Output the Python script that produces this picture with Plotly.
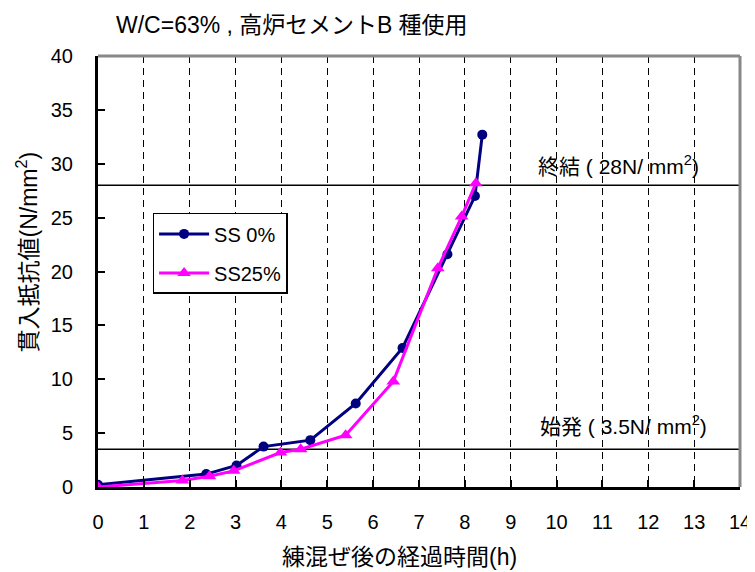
import plotly.graph_objects as go

# ---- data ----
ss0_x = [0, 2.36, 3.02, 3.61, 4.63, 5.62, 6.64, 7.62, 8.22, 8.38]
ss0_y = [0.2, 1.2, 2.0, 3.75, 4.35, 7.75, 12.9, 21.6, 27.0, 32.7]
ss25_x = [0, 1.84, 2.43, 2.96, 3.98, 4.42, 5.40, 6.44, 7.41, 7.93, 8.24]
ss25_y = [0.0, 0.6, 1.0, 1.5, 3.2, 3.5, 4.8, 9.8, 20.3, 25.1, 28.2]
series_names = ["SS 0%", "SS25%"]
thresholds = [28, 3.5]
threshold_labels = ["終結 ( 28N/ mm<sup>2</sup>)", "始発 ( 3.5N/ mm<sup>2</sup>)"]
x_ticks = list(range(0, 15))
y_ticks = list(range(0, 41, 5))

FONT = "Arial, 'Liberation Sans', 'Noto Sans CJK JP', sans-serif"

fig = go.Figure()
fig.add_trace(go.Scatter(
    x=ss0_x, y=ss0_y, name=series_names[0], mode="lines+markers",
    line=dict(color="#000080", width=3),
    marker=dict(symbol="circle", size=10, color="#000080"),
    legendgroup="a"))
fig.add_trace(go.Scatter(
    x=ss25_x, y=ss25_y, name=series_names[1], mode="lines+markers",
    line=dict(color="#FF00FF", width=3),
    marker=dict(symbol="triangle-up", size=12, color="#FF00FF"),
    legendgroup="b"))

shapes = []
for t in thresholds:
    shapes.append(dict(type="line", xref="paper", yref="y", x0=0, x1=1, y0=t, y1=t,
                       line=dict(color="black", width=1.5), layer="below"))
# gray top/right frame
shapes.append(dict(type="line", xref="paper", yref="paper", x0=0, x1=1, y0=1, y1=1,
                   line=dict(color="#888888", width=3)))
shapes.append(dict(type="line", xref="paper", yref="paper", x0=1, x1=1, y0=0, y1=1,
                   line=dict(color="#888888", width=3)))

annotations = [
    dict(text=threshold_labels[0], x=11.35, y=29.9, xref="x", yref="y",
         xanchor="center", yanchor="middle",
         showarrow=False, font=dict(size=21, color="black", family=FONT)),
    dict(text=threshold_labels[1], x=11.45, y=5.8, xref="x", yref="y",
         xanchor="center", yanchor="middle",
         showarrow=False, font=dict(size=21, color="black", family=FONT)),
    dict(text="W/C=63% , 高炉セメントB 種使用", x=0.302, y=1.072, xref="paper", yref="paper",
         xanchor="center", yanchor="middle",
         showarrow=False, font=dict(size=23, color="black", family=FONT)),
    dict(text="貫入抵抗値(N/mm<sup>2</sup>)", x=-0.11, y=0.545, xref="paper", yref="paper",
         xanchor="center", yanchor="middle",
         textangle=-90, showarrow=False, font=dict(size=23, color="black", family=FONT)),
    dict(text="練混ぜ後の経過時間(h)", x=0.47, y=-0.162, xref="paper", yref="paper",
         xanchor="center", yanchor="middle",
         showarrow=False, font=dict(size=23, color="black", family=FONT)),
]

fig.update_layout(
    width=747, height=564,
    margin=dict(l=90, r=15, t=48, b=85, autoexpand=False),
    paper_bgcolor="white", plot_bgcolor="white",
    font=dict(family=FONT, size=20, color="black"),
    shapes=shapes, annotations=annotations,
    showlegend=True,
    legend=dict(x=0.085, y=0.636, xanchor="left", yanchor="top",
                bgcolor="white", bordercolor="black", borderwidth=1.5,
                font=dict(size=20, family=FONT), itemwidth=50,
                tracegroupgap=10),
)
fig.update_xaxes(range=[0, 14], tickvals=x_ticks, ticktext=[str(v) for v in x_ticks],
                 showgrid=True, gridcolor="black", gridwidth=1, griddash="7px,5px",
                 showline=True, linecolor="black", linewidth=3,
                 ticks="inside", ticklen=7, tickwidth=2, tickcolor="black",
                 ticklabelstandoff=15, zeroline=False, automargin=False)
fig.update_yaxes(range=[0, 40], tickvals=y_ticks, ticktext=[str(v) for v in y_ticks],
                 showgrid=False, showline=True, linecolor="black", linewidth=3,
                 ticks="inside", ticklen=7, tickwidth=2, tickcolor="black",
                 ticklabelstandoff=18, zeroline=False, automargin=False)

fig.write_html("out.html")
